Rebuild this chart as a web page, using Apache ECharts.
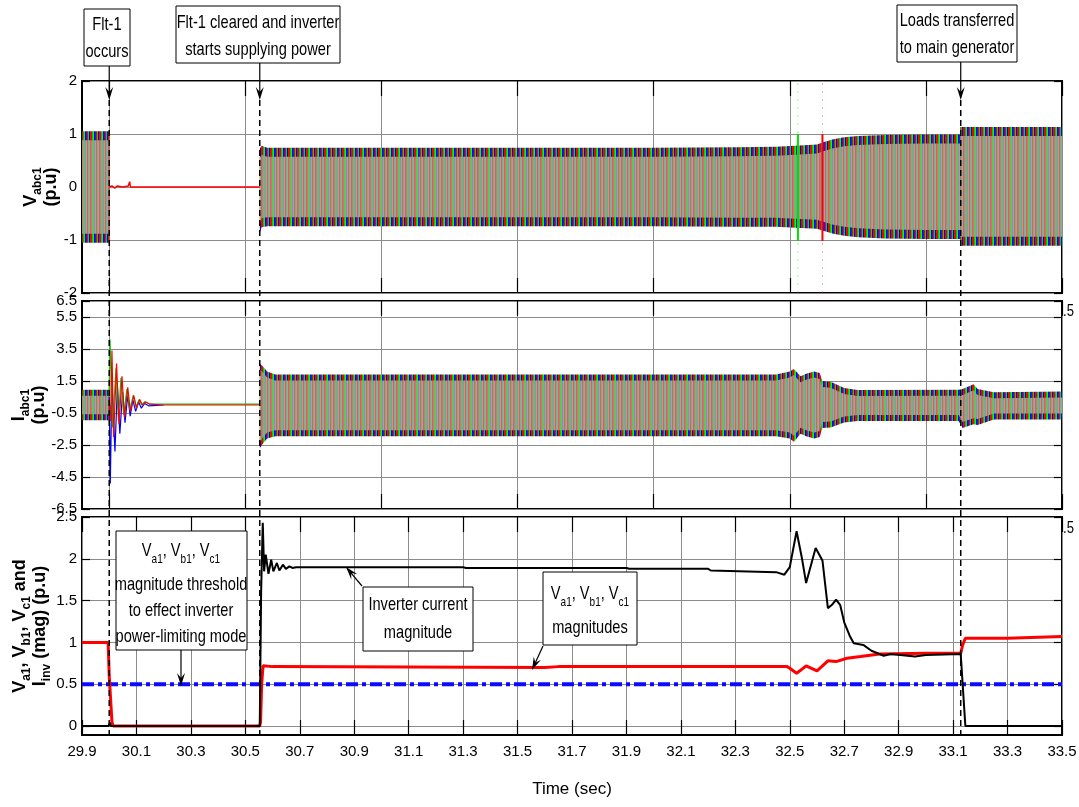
<!DOCTYPE html>
<html><head><meta charset="utf-8">
<script src="https://cdn.jsdelivr.net/npm/echarts@6/dist/echarts.min.js"></script>
<style>html,body{margin:0;padding:0;background:#fff}#c{width:1079px;height:807px}</style>
</head><body><div id="c"></div>
<script>
// ---------------- data ----------------
const xLabelTicks = [29.9,30.1,30.3,30.5,30.7,30.9,31.1,31.3,31.5,31.7,31.9,32.1,32.3,32.5,32.7,32.9,33.1,33.3,33.5];
const xGridTicks = [30.0,30.5,31.0,31.5,32.0,32.5,33.0,33.5];
const y3Ticks = [0,0.5,1,1.5,2,2.5];
const eventTimes = [30.0, 30.553, 33.128];

// Panel 1: V_abc1 envelope (upper / lower)
const vEnvT  = [29.9, 30.0, 30.0, 30.553, 30.553, 30.56, 30.58, 31.0, 32.0, 32.3, 32.45, 32.52, 32.6, 32.62, 32.66, 32.7, 32.75, 32.85, 33.0, 33.126, 33.126, 33.5];
const vEnvHi = [1.05, 1.05, 0, 0, 0.72, 0.78, 0.74, 0.74, 0.74, 0.75, 0.76, 0.78, 0.80, 0.84, 0.90, 0.94, 0.96, 0.98, 0.99, 0.99, 1.13, 1.13];
const vEnvLo = [-1.05,-1.05, 0, 0, -0.87,-0.76,-0.74,-0.74,-0.74,-0.75,-0.75,-0.77,-0.79,-0.82,-0.88,-0.92,-0.95,-0.97,-0.98,-0.98,-1.11,-1.11];
const vFlatT = [30.0, 30.01, 30.02, 30.03, 30.05, 30.07, 30.075, 30.078, 30.08, 30.553];
const vFlatV = [0, 0.02, -0.02, 0.02, 0.0, 0.02, 0.1, 0.0, 0, 0];
const vSpikeGT = [32.53, 32.53];  const vSpikeGV = [-1.02, 1.0];
const vSpikeRT = [32.62, 32.62];  const vSpikeRV = [-1.02, 1.0];
const vSpikeFullV = [-2, 2];

// Panel 2: I_abc1 envelope + fault transient of each phase
const iEnvT  = [29.9, 30.0, 30.0, 30.553, 30.553, 30.565, 30.58, 30.61, 31.0, 32.0, 32.45, 32.5, 32.515, 32.54, 32.56, 32.59, 32.61, 32.62, 32.65, 32.7, 32.75, 33.12, 33.135, 33.175, 33.19, 33.25, 33.5];
const iEnvHi = [0.95, 0.95, 0, 0, 2.6, 2.4, 2.1, 1.9, 1.9, 1.9, 1.9, 2.1, 2.25, 1.8, 1.95, 2.1, 2.0, 1.5, 1.45, 1.06, 0.94, 0.96, 1.0, 1.3, 1.0, 0.8, 0.85];
const iEnvLo = [-0.95,-0.95, 0, 0, -2.7,-2.4,-2.1,-1.95,-1.95,-1.95,-1.95,-2.1,-2.3,-1.8,-1.95,-2.1,-2.0,-1.44,-1.4,-1.1,-1.0,-1.0,-1.44,-1.2,-1.25,-0.9,-0.9];
const iTrGT = [29.999,30.003,30.012,30.025,30.034,30.043,30.053,30.065,30.076,30.088,30.099,30.11,30.12,30.13,30.15,30.19,30.553];
const iTrGV = [0.5,4.1,-1.4,2.3,-1.0,1.7,-0.6,1.0,-0.3,0.6,-0.1,0.35,0.0,0.2,0.05,0.05,0.05];
const iTrRT = [30.0,30.005,30.01,30.016,30.027,30.036,30.047,30.056,30.068,30.078,30.09,30.1,30.112,30.122,30.133,30.15,30.2,30.553];
const iTrRV = [0.3,-1.0,3.4,-2.0,2.6,-1.2,1.8,-0.8,1.1,-0.4,0.6,-0.2,0.35,0.0,0.2,0.05,0.0,0.0];
const iTrBT = [30.0,30.004,30.01,30.021,30.03,30.039,30.049,30.058,30.068,30.077,30.087,30.097,30.108,30.118,30.13,30.145,30.2];
const iTrBV = [0.5,-4.9,1.5,-2.9,1.2,-1.8,0.8,-1.1,0.6,-0.7,0.3,-0.4,0.2,-0.2,0.1,-0.05,0.0];

// Panel 3: magnitudes
const iMagT = [29.9,29.998,30.002,30.006,30.553,30.558,30.564,30.569,30.575,30.585,30.595,30.603,30.616,30.625,30.638,30.649,30.662,30.673,30.686,31.3,31.31,31.9,31.91,32.2,32.21,32.45,32.48,32.5,32.525,32.545,32.56,32.58,32.595,32.62,32.64,32.655,32.67,32.685,32.7,32.72,32.735,32.77,32.8,32.845,32.87,32.96,33.0,33.128,33.135,33.145,33.5];
const iMag  = [0,0,0.04,0,0,1.6,2.43,1.85,2.05,1.82,1.99,1.85,1.95,1.86,1.93,1.88,1.91,1.89,1.9,1.9,1.89,1.89,1.88,1.88,1.86,1.84,1.81,1.9,2.33,2.0,1.71,1.95,2.13,1.98,1.41,1.45,1.51,1.45,1.24,1.08,0.99,0.97,0.9,0.84,0.86,0.83,0.85,0.86,0.5,0,0];
const vMagT = [29.9,29.996,30.0,30.01,30.014,30.553,30.556,30.56,30.565,30.6,31.6,31.65,32.49,32.5,32.525,32.545,32.56,32.58,32.6,32.62,32.64,32.67,32.71,32.76,32.83,33.0,33.128,33.135,33.145,33.3,33.5];
const vMag  = [1.0,1.0,0.6,0.05,0,0,0.05,0.5,0.72,0.71,0.70,0.71,0.71,0.69,0.63,0.68,0.72,0.69,0.66,0.72,0.78,0.77,0.81,0.83,0.86,0.87,0.87,0.97,1.05,1.05,1.07];
const thrT = [29.9, 33.5];
const thrV = [0.5, 0.5];

// ---------------- fonts ----------------
const SANS = "'Liberation Sans', Arial, sans-serif";
const FS_TICK = 15, FS_ANN = 19, FS_NAME = 17, SX = 0.77;

// ---------------- patterns for dense 3-phase waveform bands ----------------
function makePattern(cols){
  const cv=document.createElement('canvas'); cv.width=cols.length; cv.height=2;
  const ctx=cv.getContext('2d');
  cols.forEach((c,i)=>{ctx.fillStyle=c; ctx.fillRect(i,0,1,2);});
  return {image: cv, repeat: 'repeat'};
}
const satPat = makePattern(['#ff0000','#f00000','#00d000','#00ff00','#0000ff','#1818ff','#ff0000','#00e000','#0000f0']);
const mutPat = makePattern(['#de5e5e','#d27474','#66c066','#58c858','#8c8cc8','#b0a090','#de5e5e','#6cbc6c','#a0a0b8']);

function bandSeries(T, HI, LO, xi, yi, inset){
  return {
    type:'custom', xAxisIndex:xi, yAxisIndex:yi, clip:true, silent:true, z:2,
    data: T.map((t,i)=>[t, LO[i], HI[i]]),
    encode:{x:0, y:[1,2]},
    renderItem:function(params, api){
      if (params.dataIndex!==0) return null;
      const top=T.map((t,i)=>api.coord([t,HI[i]]));
      const bot=T.map((t,i)=>api.coord([t,LO[i]]));
      const outer=top.concat(bot.slice().reverse());
      const it=top.map((p,i)=>{const d=Math.min(inset,(bot[i][1]-p[1])/2);return [p[0],p[1]+d];});
      const ib=bot.map((p,i)=>{const d=Math.min(inset,(p[1]-top[i][1])/2);return [p[0],p[1]-d];});
      return {type:'group', children:[
        {type:'polygon', shape:{points:outer}, style:{fill:satPat}},
        {type:'polygon', shape:{points:it.concat(ib.reverse())}, style:{fill:mutPat}}
      ]};
    }
  };
}
function line(T, V, xi, yi, color, width, extra){
  return Object.assign({type:'line', xAxisIndex:xi, yAxisIndex:yi, data:T.map((t,i)=>[t,V[i]]),
    showSymbol:false, symbol:'none', silent:true, animation:false, z:3,
    lineStyle:{color:color, width:width}}, extra||{});
}

// ---------------- axes ----------------
const grids=[{left:82,top:81,width:980,height:212},{left:82,top:301,width:980,height:208},{left:82,top:517,width:980,height:218}]
  .map(g=>Object.assign(g,{show:true,borderColor:'#000',borderWidth:2,backgroundColor:'rgba(0,0,0,0)',outerBoundsMode:'none',containLabel:false}));
const splitStyle={show:true,lineStyle:{color:'#8c8c8c',width:1}};
function xAx(g, pos){
  const last = g===2;
  const ticks = last ? xLabelTicks : xGridTicks;
  return {type:'value', gridIndex:g, position:pos, min:29.9, max:33.5,
    axisLine:{show:false, onZero:false},
    axisTick:{show:true, inside:true, length:15, customValues:ticks, lineStyle:{color:'#000',width:1.2}},
    axisLabel:{show: last && pos==='bottom', customValues:ticks, formatter:v=>v.toFixed(1), margin:9,
      fontFamily:SANS, fontSize:FS_TICK, color:'#000'},
    splitLine: pos==='bottom' ? splitStyle : {show:false},
    name: (last && pos==='bottom') ? 'Time (sec)' : '', nameLocation:'middle', nameGap:46, nameMoveOverlap:false,
    nameTextStyle:{fontFamily:SANS, fontSize:FS_NAME, color:'#000'}};
}
const richName = {
  v:{fontFamily:SANS, fontWeight:'bold', fontSize:18, lineHeight:20, color:'#000', verticalAlign:'bottom'},
  s:{fontFamily:SANS, fontWeight:'bold', fontSize:12, lineHeight:12, color:'#000', verticalAlign:'bottom', padding:[0,0,-4,0]}
};
function yAx(g, pos, cfg){
  const left = pos==='left';
  const o = {type:'value', gridIndex:g, position:pos, min:cfg.min, max:cfg.max,
    axisLine:{show:false, onZero:false},
    axisTick:{show:true, inside:true, length:8, lineStyle:{color:'#000',width:1.2}},
    axisLabel:{show:left, margin:5, fontFamily:SANS, fontSize:FS_TICK, color:'#000', showMaxLabel:true, showMinLabel:true},
    splitLine: left ? splitStyle : {show:false}};
  if (cfg.interval) o.interval=cfg.interval;
  if (cfg.ticks){ o.axisTick.customValues=cfg.ticks; o.axisLabel.customValues=cfg.ticks; o.axisLabel.formatter=v=>String(v); }
  if (left && cfg.name){ o.name=cfg.name; o.nameLocation='middle'; o.nameRotate=90; o.nameGap=cfg.gap; o.nameMoveOverlap=false;
    o.nameTextStyle={rich:richName, fontFamily:SANS, fontWeight:'bold', fontSize:18, color:'#000'}; }
  return o;
}
const yCfg=[
  {min:-2,max:2,interval:1,name:'{v|V}{s|abc1}\n{v|(p.u)}',gap:22},
  {min:-6.5,max:6.5,interval:2,name:'{v|I}{s|abc1}\n{v|(p.u)}',gap:34},
  {min:-0.108,max:2.5,ticks:y3Ticks,name:'{v|V}{s|a1}{v|, V}{s|b1}{v|, V}{s|c1}{v| and}\n{v|I}{s|inv}{v| (mag) (p.u)}',gap:33}
];
const xAxes=[], yAxes=[];
for(let g=0;g<3;g++){ xAxes.push(xAx(g,'bottom')); xAxes.push(xAx(g,'top')); yAxes.push(yAx(g,'left',yCfg[g])); yAxes.push(yAx(g,'right',yCfg[g])); }

// ---------------- series ----------------
const series=[
  bandSeries(vEnvT,vEnvHi,vEnvLo,0,0,9),
  line(vFlatT,vFlatV,0,0,'#ff0000',1.5),
  line(vSpikeGT,vSpikeFullV,0,0,'#00c000',1,{lineStyle:{color:'#00c000',width:1,type:[2,6],opacity:0.35}}),
  line(vSpikeRT,vSpikeFullV,0,0,'#ff0000',1,{lineStyle:{color:'#ff0000',width:1,type:[2,6],opacity:0.35}}),
  line(vSpikeGT,vSpikeGV,0,0,'#00e000',2),
  line(vSpikeRT,vSpikeRV,0,0,'#ff0000',2),
  bandSeries(iEnvT,iEnvHi,iEnvLo,2,2,6),
  line(iTrBT,iTrBV,2,2,'#0000ff',1.2),
  line(iTrGT,iTrGV,2,2,'#00d000',1.2),
  line(iTrRT,iTrRV,2,2,'#ff0000',1.2),
  line(thrT,thrV,4,4,'#0a0aff',4,{lineStyle:{color:'#0a0aff',width:4,type:[12,4,4,4]}}),
  line(vMagT,vMag,4,4,'#ff0000',3),
  line(iMagT,iMag,4,4,'#000000',2)
];

const chart=echarts.init(document.getElementById('c'),null,{renderer:'canvas'});
chart.setOption({animation:false, grid:grids, xAxis:xAxes, yAxis:yAxes, series:series});

// ---------------- annotations ----------------
const Z=100;
function box(x,y,w,h){return {type:'rect',shape:{x:x,y:y,width:w,height:h},style:{fill:'#fff',stroke:'#000',lineWidth:1},z:Z};}
const richAnn={
  n:{fontFamily:SANS, fontSize:FS_ANN, color:'#000', verticalAlign:'bottom', lineHeight:FS_ANN+2},
  s:{fontFamily:SANS, fontSize:13, color:'#000', verticalAlign:'bottom', lineHeight:12, padding:[0,0,-5,0]}
};
function txt(cx,cy,text){return {type:'text',x:cx,y:cy,scaleX:SX,z:Z+1,style:{text:text,rich:richAnn,font:FS_ANN+'px '+SANS,fill:'#000',align:'center',verticalAlign:'middle'}};}
function arrow(x1,y1,x2,y2){
  const a=Math.atan2(y2-y1,x2-x1), ux=Math.cos(a), uy=Math.sin(a), nx=-uy, ny=ux, L=13, W=4, N=8;
  return [
    {type:'line',shape:{x1:x1,y1:y1,x2:x2-N*ux,y2:y2-N*uy},style:{stroke:'#000',lineWidth:1.2},z:Z},
    {type:'polygon',shape:{points:[[x2,y2],[x2-L*ux+W*nx,y2-L*uy+W*ny],[x2-N*ux,y2-N*uy],[x2-L*ux-W*nx,y2-L*uy-W*ny]]},style:{fill:'#000'},z:Z}
  ];
}
let g=[];
const evX=eventTimes.map(t=>chart.convertToPixel({xAxisIndex:4},t));
const boxBottoms=[66,63,62];
evX.forEach((x,i)=>{
  g=g.concat(arrow(x,boxBottoms[i],x,100));
  g.push({type:'line',shape:{x1:x,y1:100,x2:x,y2:736},style:{stroke:'#000',lineWidth:1.5,lineDash:[6,4]},z:Z-1});
});
g.push(box(84,9,46,57), txt(107,25,'Flt-1'), txt(107,52,'occurs'));
g.push(box(176,6,164,57), txt(258,23,'Flt-1 cleared and inverter'), txt(258,50,'starts supplying power'));
g.push(box(897,5,120,57), txt(957,21,'Loads transferred'), txt(957,48,'to main generator'));
g.push(box(116,531,131,119), txt(181,550,'{n|V}{s|a1}{n|, V}{s|b1}{n|, V}{s|c1}'), txt(181,585,'magnitude threshold'), txt(181,611,'to effect inverter'), txt(181,637,'power-limiting mode'));
g=g.concat(arrow(181,650,181,686));
g.push(box(363,587,110,64), txt(418,605,'Inverter current'), txt(418,633,'magnitude'));
g=g.concat(arrow(362,586,346,567));
g.push(box(543,572,94,73), txt(590,593,'{n|V}{s|a1}{n|, V}{s|b1}{n|, V}{s|c1}'), txt(590,628,'magnitudes'));
g=g.concat(arrow(543,646,532,670));
g.push({type:'text',x:1063,y:311,z:Z,scaleX:SX,style:{text:'.5',font:'17px '+SANS,fill:'#000',align:'left',verticalAlign:'middle'}});
g.push({type:'text',x:1063,y:528,z:Z,scaleX:SX,style:{text:'.5',font:'17px '+SANS,fill:'#000',align:'left',verticalAlign:'middle'}});
chart.setOption({graphic:{elements:g}});
</script></body></html>
